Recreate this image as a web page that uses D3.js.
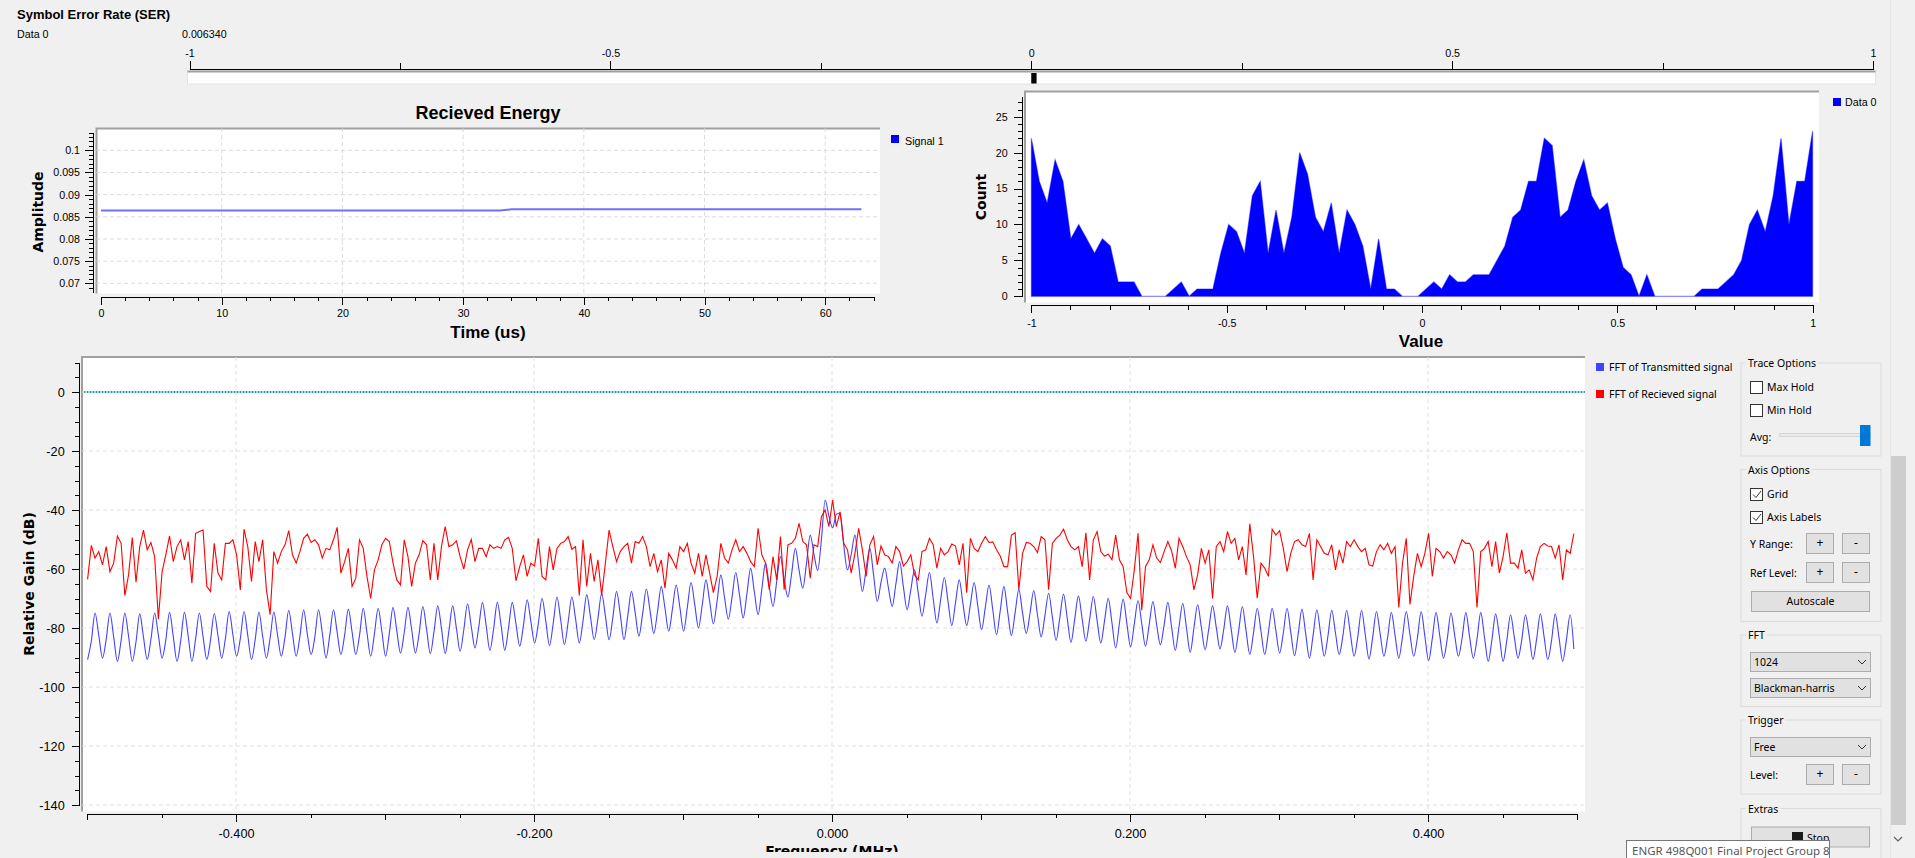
<!DOCTYPE html>
<html>
<head>
<meta charset="utf-8">
<script src="https://cdn.jsdelivr.net/npm/d3@7"></script>
<style>
  body { margin: 0; background: #f0f0f0; overflow: hidden; }
  svg { display: block; }
</style>
</head>
<body>
<div id="chart"></div>
<script>

// ---------- data ----------

// Symbol error rate number sink
var ser_label = "Data 0";
var ser_value = 0.006340;
var ser_ticks = [-1, -0.5, 0, 0.5, 1];
var ser_minor = [-0.75, -0.25, 0.25, 0.75];

// Recieved energy, one value per microsecond (0..63 us)
var energy_values = [
  0.0864,0.0864,0.0864,0.0864,0.0864,0.0864,0.0864,0.0864,0.0864,0.0864,
  0.0864,0.0864,0.0864,0.0864,0.0864,0.0864,0.0864,0.0864,0.0864,0.0864,
  0.0864,0.0864,0.0864,0.0864,0.0864,0.0864,0.0864,0.0864,0.0864,0.0864,
  0.0864,0.0864,0.0864,0.0864,0.0867,0.0867,0.0867,0.0867,0.0867,0.0867,
  0.0867,0.0867,0.0867,0.0867,0.0867,0.0867,0.0867,0.0867,0.0867,0.0867,
  0.0867,0.0867,0.0867,0.0867,0.0867,0.0867,0.0867,0.0867,0.0867,0.0867,
  0.0867,0.0867,0.0867,0.0867
];
var time_ticks = [0, 10, 20, 30, 40, 50, 60];
var amp_ticks = [0.07, 0.075, 0.08, 0.085, 0.09, 0.095, 0.1];

// Histogram, 100 bins spread over [-1, 1]
var hist_counts = [
  22,16,13,19,16,8,10,8,6,8,
  7,2,2,2,0,0,0,0,1,2,
  0,1,1,1,6,10,9,6,14,16,
  6,12,6,11,20,17,11,9,13,6,
  12,10,7,1,8,1,1,0,0,0,
  1,2,1,3,2,2,3,3,3,5,
  7,11,12,16,16,22,21,11,12,16,
  19,14,12,13,8,4,3,0,3,0,
  0,0,0,0,0,1,1,1,2,3,
  5,10,12,9,14,22,10,16,16,23
];
var hist_x_ticks = [-1, -0.5, 0, 0.5, 1];
var hist_y_ticks = [0, 5, 10, 15, 20, 25];

// FFT traces, sampled every 0.0025 MHz starting at -0.4996 MHz
var fft_start = -0.4996, fft_step = 0.0025;
var fft_tx = [
  -90.7,-84.5,-74.9,-82.5, -90.2,-83.8,-74.9,-83.0, -91.3,-84.2,-74.9,-82.8, -91.3,-84.6,-75.2,-83.1, -90.7,-83.9,-74.9,-82.4,
  -90.2,-84.0,-74.7,-82.9, -91.3,-84.3,-74.7,-82.7, -91.3,-83.7,-74.9,-83.0, -90.7,-84.1,-75.1,-82.6, -90.2,-83.5,-74.4,-82.2,
  -89.6,-83.6,-74.4,-82.5, -90.7,-83.9,-74.6,-82.8, -90.2,-83.4,-74.6,-82.4, -89.6,-83.0,-74.0,-81.9, -89.6,-82.8,-73.8,-82.2,
  -89.0,-83.1,-73.8,-81.7, -90.2,-82.6,-73.8,-81.5, -89.0,-82.4,-73.6,-81.3, -89.0,-82.5,-73.3,-81.6, -89.6,-82.0,-73.3,-81.2,
  -89.6,-81.8,-73.0,-80.9, -88.5,-81.6,-73.0,-80.6, -88.5,-81.9,-72.7,-80.4, -88.7,-81.2,-72.5,-80.1, -88.7,-81.0,-72.5,-80.0,
  -87.9,-80.6,-71.8,-79.5, -86.8,-79.8,-71.3,-79.2, -87.6,-80.3,-71.3,-79.0, -87.6,-80.0,-71.3,-78.6, -86.2,-79.2,-70.4,-77.8,
  -85.1,-78.5,-69.9,-77.6, -86.0,-78.4,-69.5,-77.2, -85.7,-78.0,-69.5,-76.9, -85.1,-77.6,-68.7,-76.2, -84.0,-76.8,-68.2,-75.9,
  -84.0,-76.5,-67.6,-75.4, -84.0,-76.0,-67.6,-74.8, -82.8,-75.2,-66.8,-74.2, -81.9,-74.4,-65.9,-73.3, -81.1,-73.6,-65.4,-73.0,
  -81.1,-73.0,-64.6,-72.1, -80.0,-72.2,-63.7,-71.0, -78.6,-70.8,-62.0,-69.8, -77.0,-69.6,-61.2,-68.7, -76.6,-68.4,-59.7,-67.8,
  -75.5,-66.8,-58.0,-65.9, -72.7,-64.2,-55.8,-63.5, -69.5,-61.6,-53.0,-60.4, -66.5,-58.0,-48.5,-55.0, -60.5,-50.0,-36.6,-42.0,
  -46.0,-41.5,-41.0,-52.0, -60.3,-55.0,-48.5,-58.5, -67.6,-60.0,-53.0,-62.0, -71.0,-64.5,-59.7,-66.5, -72.7,-65.0,-57.5,-66.0,
  -73.8,-67.0,-60.3,-68.2, -76.0,-68.6,-61.2,-70.0, -78.3,-70.5,-62.9,-71.2, -79.2,-71.4,-63.7,-71.8, -79.2,-72.0,-64.6,-72.7,
  -80.6,-73.0,-65.4,-73.8, -82.3,-74.2,-65.9,-74.6, -82.6,-74.8,-67.0,-74.9, -81.9,-75.0,-67.3,-75.5, -83.0,-75.8,-68.2,-76.3,
  -84.2,-76.5,-68.5,-76.8, -84.9,-77.0,-69.1,-77.0, -84.5,-77.1,-69.3,-77.4, -85.1,-77.6,-69.9,-78.3, -86.8,-78.4,-70.2,-78.5,
  -86.4,-78.6,-70.7,-78.6, -86.2,-78.8,-71.0,-78.9, -85.7,-79.0,-71.3,-79.6, -87.6,-79.6,-71.6,-80.0, -88.3,-80.0,-72.1,-79.8,
  -87.4,-80.2,-72.5,-79.8, -87.1,-80.5,-72.5,-80.4, -88.3,-81.0,-72.7,-81.0, -89.0,-81.6,-73.3,-81.1, -89.0,-81.5,-73.3,-80.9,
  -88.5,-81.7,-73.3,-81.4, -89.4,-82.0,-73.6,-81.9, -90.2,-82.4,-73.8,-81.8, -89.6,-82.5,-74.0,-81.7, -89.0,-82.6,-74.0,-81.9,
  -89.6,-82.9,-74.0,-82.3, -90.5,-83.1,-74.4,-82.0, -89.6,-83.2,-74.7,-82.5, -90.2,-83.0,-74.4,-82.2, -89.6,-83.3,-74.4,-82.8,
  -91.1,-83.5,-74.7,-82.6, -90.2,-83.8,-74.9,-82.4, -89.6,-83.4,-74.7,-82.9, -90.2,-83.7,-74.7,-83.1, -91.3,-84.0,-75.2,-82.8,
  -91.3,-84.2,-75.5,-83.0, -90.2,-84.1,-75.5,-82.6, -90.7,-83.8,-75.2,-82.9, -90.7,-84.3,-75.2,-83.2, -91.3,-84.0,-75.5,-87.1
];
var fft_rx = [
  -63.5,-52,-56.3,-54.1,-58.6,-52.4,-60.9,-58,-48.8,-51.3,
  -69,-62,-49.3,-64.5,-52.4,-46.8,-53.5,-51,-55.8,-77,
  -60.9,-55.2,-48.8,-57.5,-52.4,-50.1,-56.9,-50.7,-64.8,-47.9,
  -47.3,-46.8,-65.9,-67.6,-51.3,-61.4,-63.7,-51.3,-51.3,-50.1,
  -55.2,-67.1,-46.5,-52.4,-64.2,-50.7,-57.5,-50.1,-67,-75.5,
  -54.1,-58,-54.1,-51.8,-47,-55.2,-58,-54.1,-49.6,-48.2,
  -51,-50.1,-51.8,-56.3,-53,-53.5,-50.1,-45.9,-61.4,-57.5,
  -53,-65.9,-63.1,-50.1,-53,-62.5,-70,-60.3,-56.9,-51.8,
  -49.6,-50.7,-58,-63.7,-65.4,-50.1,-55.8,-65.9,-58,-55.2,
  -50.4,-51.8,-63.7,-51.3,-63.7,-52.4,-45.6,-52.4,-51.8,-50.5,
  -55.8,-60,-53.5,-50,-57.5,-53,-53,-55.8,-51.8,-53,
  -52.4,-53,-50.1,-49.3,-53,-64,-59.2,-55.2,-62.5,-58,
  -59,-49.6,-62.5,-63.7,-52.4,-60.3,-53,-51.3,-50.7,-49,
  -53.3,-52.4,-69,-50.1,-65.9,-54.7,-64.2,-56.9,-69,-58,
  -46.8,-52.4,-57.5,-54.1,-52.4,-51.3,-58,-50.7,-51.3,-49,
  -52.4,-59.2,-54.7,-60.9,-56.9,-66.5,-54.7,-56.9,-59.7,-52.4,
  -54.1,-51.3,-58,-61.4,-54.7,-62.5,-55.2,-61.4,-68,-62.5,
  -51.3,-56.3,-58,-53.5,-50.1,-54.1,-52.4,-54.7,-57.5,-59.2,
  -46.2,-55.2,-58,-67,-55.8,-63.7,-49,-67,-51.8,-51.3,
  -49.6,-44.5,-50.7,-51.8,-63.1,-51.8,-52.4,-42.3,-40,-45.6,
  -36.6,-45.6,-40.6,-51.3,-53.5,-61.4,-54.7,-46.2,-53.5,-62.5,
  -51.8,-49,-58.6,-52.2,-55.2,-55.8,-58,-52.4,-54.1,-59,
  -57.5,-55.2,-62,-63.7,-54.1,-53.5,-49.6,-51.8,-59.7,-53,
  -55.2,-54.1,-51.5,-52.2,-58.6,-51.3,-68,-49.6,-53,-54.1,
  -51.3,-49,-51,-50.8,-53.5,-55.6,-59.2,-59.2,-48.5,-47.7,
  -67,-54.7,-51,-51.3,-52.4,-54.4,-49,-50.1,-67,-51.3,
  -49.6,-48.5,-46.5,-50.1,-52.4,-53.5,-52.4,-59.2,-47.7,-63.7,
  -50.1,-47.3,-54.1,-55.6,-55,-56.9,-48.5,-56.9,-59.2,-68,
  -70,-60.3,-47.9,-74,-59.2,-56.9,-51.8,-56.3,-57.8,-54.1,
  -50.7,-53.8,-59.7,-49.6,-52.4,-55.8,-58.6,-67.1,-62,-53,
  -58,-53.5,-70,-52.4,-50.7,-54.1,-47.3,-51.3,-49.6,-56.9,
  -52.4,-62,-44.7,-55.8,-69.9,-58,-59.7,-62.5,-46.5,-48.5,
  -47,-53,-60.9,-54.7,-50.7,-50.1,-51.8,-52.4,-47.9,-63.7,
  -50.1,-52.4,-54.7,-55.2,-51.8,-60.3,-53.5,-58,-50.7,-52.4,
  -50.1,-52.4,-54.1,-53,-58.6,-59,-54.1,-51.8,-53.5,-51.3,
  -54.7,-52.4,-73,-58,-49.6,-72,-62.5,-54.7,-59.2,-54.7,
  -47.9,-62.5,-53,-54.1,-56.3,-54.1,-55.2,-58,-53.5,-50.1,
  -51.3,-51.3,-54.1,-73,-54.1,-53,-50.7,-59.2,-50.7,-61.4,
  -55.8,-47.7,-58,-58,-59.7,-53.5,-61.4,-60.3,-63.7,-56.3,
  -52.4,-51.3,-52.2,-52.4,-56.3,-51.8,-63.7,-53.5,-54.7,-48
];
var fft_names = ["FFT of Transmitted signal", "FFT of Recieved signal"];
var fft_colors = ["#4242ff", "#ff0000"];
var freq_ticks = [-0.4, -0.2, 0, 0.2, 0.4];
var freq_mid = [-0.5, -0.3, -0.1, 0.1, 0.3, 0.5];
var freq_minor = [-0.45, -0.35, -0.25, -0.15, -0.05, 0.05, 0.15, 0.25, 0.35, 0.45];
var gain_ticks = [-140, -120, -100, -80, -60, -40, -20, 0];


// ---------- setup ----------

var W = 1915, H = 858;
var f_tahoma = "'Liberation Sans', Arial, sans-serif";
var f_verdana = "'DejaVu Sans', Verdana, sans-serif";
var f_ui = "'Noto Sans', 'Liberation Sans', sans-serif";

var svg = d3.select("#chart").append("svg")
    .attr("width", W)
    .attr("height", H);

svg.append("rect").attr("width", W).attr("height", H).attr("fill", "#f0f0f0");

var defs = svg.append("defs");

function canvas(id, x0, y0, x1, y1) {
  defs.append("clipPath").attr("id", id)
    .append("rect").attr("x", x0).attr("y", y0).attr("width", x1 - x0).attr("height", y1 - y0);
  svg.append("rect").attr("x", x0).attr("y", y0).attr("width", x1 - x0).attr("height", y1 - y0)
    .attr("fill", "#ffffff");
  // sunken frame, dark on top and left
  svg.append("path")
    .attr("d", "M" + x0 + "," + y1 + "V" + y0 + "H" + x1)
    .attr("fill", "none").attr("stroke", "#a0a0a0").attr("stroke-width", 2);
}

function styleAxis(g, font, size) {
  g.attr("font-family", font).attr("font-size", size);
  g.selectAll(".domain").attr("stroke", "#000").attr("shape-rendering", "crispEdges");
  g.selectAll(".tick line").attr("stroke", "#000").attr("shape-rendering", "crispEdges");
  g.selectAll(".tick text").attr("fill", "#000");
}

function addTicks(g, axisFn, scale, values, len) {
  g.append("g").call(axisFn(scale).tickValues(values).tickSize(len).tickFormat(""))
    .call(function(s){ s.select(".domain").remove(); })
    .selectAll("line").attr("stroke", "#000").attr("shape-rendering", "crispEdges");
}

var numFmt = function(d){ return String(+d.toFixed(4)); };


// ---------- Symbol Error Rate ----------

svg.append("text").attr("x", 17).attr("y", 18.5)
  .attr("font-family", f_tahoma).attr("font-size", 13).attr("font-weight", "bold")
  .text("Symbol Error Rate (SER)");
svg.append("text").attr("x", 17).attr("y", 38)
  .attr("font-family", f_tahoma).attr("font-size", 10.7).text(ser_label);
svg.append("text").attr("x", 182).attr("y", 38)
  .attr("font-family", f_tahoma).attr("font-size", 10.7).text(ser_value.toFixed(6));

var serX = d3.scaleLinear().domain([-1, 1]).range([189.5, 1873]);

var g_ser = svg.append("g").attr("transform", "translate(0,68.5)")
  .call(d3.axisTop(serX).tickValues(ser_ticks).tickSize(8).tickSizeOuter(0).tickPadding(4).tickFormat(numFmt));
styleAxis(g_ser, f_tahoma, 10.7);
addTicks(g_ser, d3.axisTop, serX, ser_minor, 6);

// bar
svg.append("rect").attr("x", 187.5).attr("y", 71).attr("width", 1688).attr("height", 13)
  .attr("fill", "#ffffff").attr("stroke", "#e3e3e3");
svg.append("line").attr("x1", 187.5).attr("x2", 1875.5).attr("y1", 71.5).attr("y2", 71.5)
  .attr("stroke", "#a0a0a0").attr("stroke-width", 2);
svg.append("rect").attr("x", serX(0)).attr("y", 73)
  .attr("width", Math.max(1, serX(ser_value) - serX(0))).attr("height", 10.5)
  .attr("fill", "#000");


// ---------- Recieved Energy (time plot) ----------

canvas("clip_time", 96.5, 128.5, 880, 293.5);

var timeX = d3.scaleLinear().domain([0, 64]).range([101, 873.5]);
var timeY = d3.scaleLinear().domain([0.07, 0.1]).range([283.3, 150.3]);

var g_tgrid = svg.append("g").attr("clip-path", "url(#clip_time)");
g_tgrid.selectAll(".vg").data(time_ticks.slice(1)).enter().append("line")
  .attr("x1", function(d){ return timeX(d); }).attr("x2", function(d){ return timeX(d); })
  .attr("y1", 128).attr("y2", 294)
  .attr("stroke", "#dcdcdc").attr("stroke-dasharray", "4,3");
g_tgrid.selectAll(".hg").data(amp_ticks).enter().append("line")
  .attr("x1", 96).attr("x2", 880)
  .attr("y1", function(d){ return timeY(d); }).attr("y2", function(d){ return timeY(d); })
  .attr("stroke", "#dcdcdc").attr("stroke-dasharray", "4,3");

svg.append("path")
  .datum(energy_values)
  .attr("clip-path", "url(#clip_time)")
  .attr("fill", "none")
  .attr("stroke", "#7070ff")
  .attr("stroke-width", 2)
  .attr("d", d3.line().x(function(d, i){ return timeX(i); }).y(function(d){ return timeY(d); }));

var g_tx = svg.append("g").attr("transform", "translate(0,296.7)")
  .call(d3.axisBottom(timeX).tickValues(time_ticks).tickSize(8).tickSizeOuter(0).tickPadding(5).tickFormat(numFmt));
styleAxis(g_tx, f_tahoma, 10.7);
addTicks(g_tx, d3.axisBottom, timeX, d3.range(2, 65, 2).filter(function(d){ return d % 10 != 0; }), 4);

var timeYAxis = d3.scaleLinear().domain([timeY.invert(292), timeY.invert(132)]).range([292, 132]);
var g_ty = svg.append("g").attr("transform", "translate(93,0)")
  .call(d3.axisLeft(timeYAxis).tickValues(amp_ticks).tickSize(8).tickSizeOuter(0).tickPadding(5).tickFormat(numFmt));
styleAxis(g_ty, f_tahoma, 10.7);
addTicks(g_ty, d3.axisLeft, timeYAxis,
  d3.range(69, 105).map(function(d){ return d / 1000; }).filter(function(d){ return Math.round(d * 1000) % 5 != 0; }), 4);

svg.append("text").attr("x", 488).attr("y", 119).attr("text-anchor", "middle")
  .attr("font-family", f_tahoma).attr("font-size", 18).attr("font-weight", "bold")
  .text("Recieved Energy");
svg.append("text").attr("x", 488).attr("y", 338).attr("text-anchor", "middle")
  .attr("font-family", f_tahoma).attr("font-size", 17).attr("font-weight", "bold")
  .text("Time (us)");
svg.append("text").attr("transform", "translate(43,212) rotate(-90)").attr("text-anchor", "middle")
  .attr("font-family", f_verdana).attr("font-size", 14).attr("font-weight", "bold")
  .text("Amplitude");

svg.append("rect").attr("x", 891).attr("y", 135).attr("width", 8).attr("height", 8).attr("fill", "#0000ff");
svg.append("text").attr("x", 905).attr("y", 145).attr("font-family", f_tahoma).attr("font-size", 10.7)
  .text("Signal 1");


// ---------- Histogram ----------

canvas("clip_hist", 1025, 91.5, 1819, 302.5);

var histX = d3.scaleLinear().domain([-1, 1]).range([1031.4, 1812.6]);
var histY = d3.scaleLinear().domain([0, 25]).range([296.3, 116.7]);

svg.append("path")
  .datum(hist_counts)
  .attr("clip-path", "url(#clip_hist)")
  .attr("fill", "#0000ff")
  .attr("stroke", "rgba(0,0,255,0.45)")
  .attr("stroke-width", 1.2)
  .attr("d", d3.area()
    .x(function(d, i){ return histX(-1 + 2 * i / (hist_counts.length - 1)); })
    .y0(histY(0))
    .y1(function(d){ return histY(d); }));

var g_hx = svg.append("g").attr("transform", "translate(0,305.3)")
  .call(d3.axisBottom(histX).tickValues(hist_x_ticks).tickSize(8).tickSizeOuter(0).tickPadding(6).tickFormat(numFmt));
styleAxis(g_hx, f_tahoma, 10.7);
addTicks(g_hx, d3.axisBottom, histX, [-0.9,-0.8,-0.7,-0.6,-0.4,-0.3,-0.2,-0.1,0.1,0.2,0.3,0.4,0.6,0.7,0.8,0.9], 4.5);

var histYAxis = d3.scaleLinear().domain([0, histY.invert(96)]).range([296.3, 96]);
var g_hy = svg.append("g").attr("transform", "translate(1021.7,0)")
  .call(d3.axisLeft(histYAxis).tickValues(hist_y_ticks).tickSize(8).tickSizeOuter(0).tickPadding(6).tickFormat(numFmt));
styleAxis(g_hy, f_tahoma, 10.7);
addTicks(g_hy, d3.axisLeft, histYAxis, d3.range(1, 28).filter(function(d){ return d % 5 != 0; }), 4);

svg.append("text").attr("x", 1421).attr("y", 347).attr("text-anchor", "middle")
  .attr("font-family", f_tahoma).attr("font-size", 17).attr("font-weight", "bold")
  .text("Value");
svg.append("text").attr("transform", "translate(986,197) rotate(-90)").attr("text-anchor", "middle")
  .attr("font-family", f_verdana).attr("font-size", 14).attr("font-weight", "bold")
  .text("Count");

svg.append("rect").attr("x", 1833).attr("y", 98).attr("width", 8).attr("height", 8).attr("fill", "#0000ff");
svg.append("text").attr("x", 1845).attr("y", 106).attr("font-family", f_tahoma).attr("font-size", 10.7)
  .text(ser_label);


// ---------- FFT plot ----------

canvas("clip_fft", 82, 357, 1585, 811.5);

var fftX = d3.scaleLinear().domain([-0.5, 0.5]).range([87, 1577]);
var fftY = d3.scaleLinear().domain([-140, 0]).range([805, 392]);

var g_fgrid = svg.append("g").attr("clip-path", "url(#clip_fft)");
g_fgrid.selectAll(".vg").data(freq_ticks).enter().append("line")
  .attr("x1", function(d){ return fftX(d); }).attr("x2", function(d){ return fftX(d); })
  .attr("y1", 357).attr("y2", 812)
  .attr("stroke", "#e0e0e0").attr("stroke-dasharray", "4,3");
g_fgrid.selectAll(".hg").data(gain_ticks).enter().append("line")
  .attr("x1", 82).attr("x2", 1585)
  .attr("y1", function(d){ return fftY(d); }).attr("y2", function(d){ return fftY(d); })
  .attr("stroke", "#e0e0e0").attr("stroke-dasharray", "4,3");

// 0 dB marker
svg.append("line").attr("x1", 84).attr("x2", 1585).attr("y1", fftY(0)).attr("y2", fftY(0))
  .attr("stroke", "#19c8e6").attr("stroke-width", 1);
svg.append("line").attr("x1", 84).attr("x2", 1585).attr("y1", fftY(0)).attr("y2", fftY(0))
  .attr("stroke", "#10306a").attr("stroke-width", 1).attr("stroke-dasharray", "1,2");

var fftX_of = function(d, i){ return fftX(fft_start + i * fft_step); };
var fft_curves = [d3.curveMonotoneX, d3.curveLinear];

[fft_tx, fft_rx].forEach(function(series, k){
  svg.append("path")
    .datum(series)
    .attr("clip-path", "url(#clip_fft)")
    .attr("fill", "none")
    .attr("stroke", fft_colors[k])
    .attr("stroke-width", 1.1)
    .attr("stroke-linejoin", "miter")
    .attr("d", d3.line().x(fftX_of).y(function(d){ return fftY(d); }).curve(fft_curves[k]));
});

var g_fx = svg.append("g").attr("transform", "translate(0,814)")
  .call(d3.axisBottom(fftX).tickValues(freq_ticks).tickSize(8).tickSizeOuter(0).tickPadding(7)
    .tickFormat(function(d){ return d.toFixed(3); }));
styleAxis(g_fx, f_tahoma, 12.7);
addTicks(g_fx, d3.axisBottom, fftX, freq_mid, 6);
addTicks(g_fx, d3.axisBottom, fftX, freq_minor, 4);

var fftYAxis = d3.scaleLinear().domain([-140, 10]).range([fftY(-140), fftY(10)]);
var g_fy = svg.append("g").attr("transform", "translate(78.7,0)")
  .call(d3.axisLeft(fftYAxis).tickValues(gain_ticks).tickSize(7).tickSizeOuter(0).tickPadding(7)
    .tickFormat(function(d){ return String(d); }));
styleAxis(g_fy, f_tahoma, 12.7);
addTicks(g_fy, d3.axisLeft, fftYAxis, d3.range(-135, 15, 5).filter(function(d){ return d % 20 != 0; }), 4);

svg.append("text").attr("transform", "translate(34,584) rotate(-90)").attr("text-anchor", "middle")
  .attr("font-family", f_verdana).attr("font-size", 14).attr("font-weight", "bold")
  .text("Relative Gain (dB)");

defs.append("clipPath").attr("id", "clip_bottom")
  .append("rect").attr("x", 0).attr("y", 0).attr("width", W).attr("height", 852);
svg.append("text").attr("x", fftX(0)).attr("y", 856).attr("text-anchor", "middle")
  .attr("clip-path", "url(#clip_bottom)")
  .attr("font-family", f_verdana).attr("font-size", 14).attr("font-weight", "bold")
  .text("Frequency (MHz)");

// legend
fft_names.forEach(function(name, k){
  var y = 367 + k * 27;
  svg.append("rect").attr("x", 1596).attr("y", y - 4).attr("width", 8).attr("height", 8).attr("fill", fft_colors[k]);
  svg.append("text").attr("x", 1609).attr("y", y + 3.8).attr("font-family", f_ui).attr("font-size", 10.5)
    .text(name);
});


// ---------- control panel ----------

var panel = svg.append("g").attr("font-family", f_ui).attr("font-size", 10.5).attr("fill", "#000");

function groupBox(y0, y1, title) {
  panel.append("rect").attr("x", 1741).attr("y", y0).attr("width", 140).attr("height", y1 - y0)
    .attr("fill", "none").attr("stroke", "#dcdcdc");
  var bg = panel.append("rect").attr("fill", "#f0f0f0");
  var t = panel.append("text").attr("x", 1748).attr("y", y0 + 4).text(title);
  var w = t.node().getComputedTextLength();
  bg.attr("x", 1746).attr("y", y0 - 2).attr("width", w + 4).attr("height", 5);
}

function checkbox(y, label, checked) {
  panel.append("rect").attr("x", 1750.5).attr("y", y + 0.5).attr("width", 12).attr("height", 12)
    .attr("fill", "#ffffff").attr("stroke", "#333333");
  if (checked) {
    panel.append("path").attr("d", "M" + 1753 + "," + (y + 6.5) + "l3,3l5,-6.5")
      .attr("fill", "none").attr("stroke", "#333333").attr("stroke-width", 1);
  }
  panel.append("text").attr("x", 1767).attr("y", y + 10.3).text(label);
}

function button(x, y, w, h, label) {
  panel.append("rect").attr("x", x + 0.5).attr("y", y + 0.5).attr("width", w).attr("height", h)
    .attr("fill", "#e1e1e1").attr("stroke", "#adadad");
  if (label) {
    panel.append("text").attr("x", x + w / 2 + 0.5).attr("y", y + h / 2 + 4).attr("text-anchor", "middle")
      .attr("font-size", label.length == 1 ? 12 : 10.5).text(label);
  }
}

function combo(y, label) {
  panel.append("rect").attr("x", 1750.5).attr("y", y + 0.5).attr("width", 120).attr("height", 19)
    .attr("fill", "#e1e1e1").attr("stroke", "#adadad");
  panel.append("text").attr("x", 1754).attr("y", y + 13.5).text(label);
  panel.append("path").attr("d", "M1858," + (y + 8) + "l4,4l4,-4")
    .attr("fill", "none").attr("stroke", "#333333");
}

groupBox(363, 456, "Trace Options");
checkbox(381, "Max Hold", false);
checkbox(404, "Min Hold", false);
panel.append("text").attr("x", 1750).attr("y", 441).text("Avg:");
panel.append("rect").attr("x", 1779.5).attr("y", 433.5).attr("width", 91).attr("height", 3)
  .attr("fill", "#e7eaea").attr("stroke", "#d6d6d6");
panel.append("rect").attr("x", 1860).attr("y", 425).attr("width", 10.5).attr("height", 21).attr("fill", "#0078d7");

groupBox(469.5, 621.5, "Axis Options");
checkbox(488, "Grid", true);
checkbox(511, "Axis Labels", true);
panel.append("text").attr("x", 1750).attr("y", 547.5).text("Y Range:");
button(1806, 533, 27, 20, "+");
button(1842, 533, 27, 20, "-");
panel.append("text").attr("x", 1750).attr("y", 576.5).text("Ref Level:");
button(1806, 562, 27, 20, "+");
button(1842, 562, 27, 20, "-");
button(1751, 591, 118, 20, "Autoscale");

groupBox(635, 706.5, "FFT");
combo(652, "1024");
combo(678, "Blackman-harris");

groupBox(720, 794, "Trigger");
combo(737, "Free");
panel.append("text").attr("x", 1750).attr("y", 778.5).text("Level:");
button(1806, 764, 27, 20, "+");
button(1842, 764, 27, 20, "-");

groupBox(808.5, 880, "Extras");
button(1751, 826.5, 118, 20, null);
panel.append("rect").attr("x", 1792).attr("y", 832).attr("width", 11).attr("height", 11).attr("fill", "#1a1a1a");
panel.append("text").attr("x", 1807).attr("y", 841.5).text("Stop");

// scrollbar
svg.append("line").attr("x1", 1890.5).attr("x2", 1890.5).attr("y1", 0).attr("y2", H).attr("stroke", "#e6e6e6");
svg.append("rect").attr("x", 1891).attr("y", 456).attr("width", 15).attr("height", 369).attr("fill", "#cdcdcd");
svg.append("path").attr("d", "M1894,837l4,4l4,-4").attr("fill", "none").attr("stroke", "#606060").attr("stroke-width", 1.2);

// tooltip
svg.append("rect").attr("x", 1626.5).attr("y", 840.5).attr("width", 203).attr("height", 22)
  .attr("fill", "#ffffff").attr("stroke", "#767676");
svg.append("text").attr("x", 1632).attr("y", 854.5).attr("font-family", f_ui).attr("font-size", 11.5)
  .attr("fill", "#575757").text("ENGR 498Q001 Final Project Group 8");

</script>
</body>
</html>
